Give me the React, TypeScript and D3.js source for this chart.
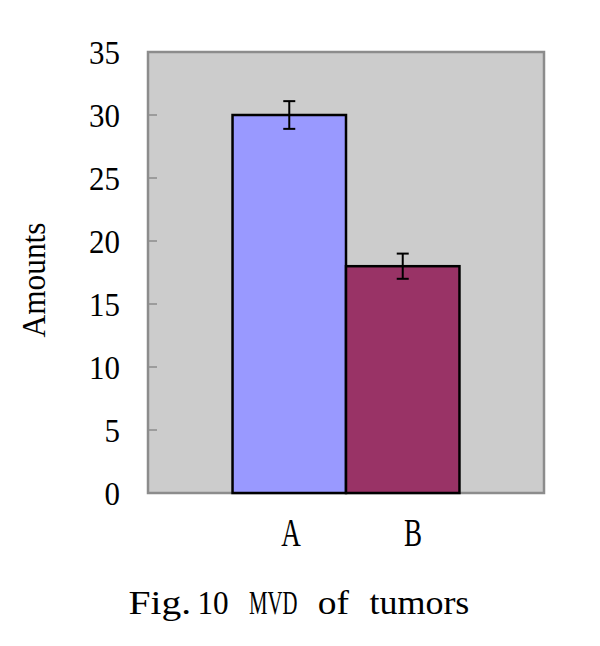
import React from "react";
import * as d3 from "d3";

const categories = ["A", "B"];
const values = [30, 18];
const errors = [1.1, 1.0];
const colors = ["#9999FF", "#993366"];
const yTicks = [0, 5, 10, 15, 20, 25, 30, 35];
const yLabel = "Amounts";
const caption = "Fig.10 MVD of tumors";

const W = 600;
const H = 646;
const plot = { left: 148, right: 544, top: 52, bottom: 493 };
const FONT = "'Liberation Serif', 'Times New Roman', serif";

export default function App() {
  const y = d3.scaleLinear().domain([0, 35]).range([plot.bottom, plot.top]);
  const x = d3
    .scaleBand<string>()
    .domain(categories)
    .range([plot.left, plot.right])
    .paddingInner(0)
    .paddingOuter(0.745);
  const labelX = d3.scalePoint<string>().domain(categories).range([291, 413]);
  const bw = x.bandwidth();
  const textStyle = { fontFamily: FONT, fill: "#000" } as const;

  // caption laid out on a fixed character pitch (monospace-like, as in the original)
  const pitch = 17.2;
  const capLeft = 127;
  const bearing = 1.6;
  const sx = 0.7;
  const chunks = caption.match(/[A-Za-z]+\.?|\d+|\s/g) || [];
  let idx = 0;
  const spans = chunks.map((c) => {
    const left = capLeft + idx * pitch;
    idx += c.length;
    if (c === " ") return { text: c, left: left / sx, width: 0 };
    const extra = c.endsWith(".") ? 3 : 0;
    return {
      text: c,
      left: (left + bearing) / sx,
      width: (c.length * pitch - 2 * bearing - extra) / sx,
    };
  });

  return (
    <svg
      width={W}
      height={H}
      style={{ position: "absolute", left: 0, top: 0, background: "#fff" }}
    >
      <rect
        x={plot.left}
        y={plot.top}
        width={plot.right - plot.left}
        height={plot.bottom - plot.top}
        fill="#CCCCCC"
        stroke="#8c8c8c"
        strokeWidth={2.5}
      />
      {yTicks.map((t) => (
        <g key={t}>
          <line
            x1={plot.left}
            x2={plot.left + 9}
            y1={y(t)}
            y2={y(t)}
            stroke="#8c8c8c"
            strokeWidth={1.5}
          />
          <text
            transform={`translate(120, ${y(t) + 11.5}) scale(0.91, 1)`}
            textAnchor="end"
            fontSize={34}
            style={textStyle}
          >
            {t}
          </text>
        </g>
      ))}
      {categories.map((c, i) => {
        const bx = x(c)!;
        const cx = bx + bw / 2;
        const top = y(values[i] + errors[i]);
        const bot = y(values[i] - errors[i]);
        return (
          <g key={c}>
            <rect
              x={bx}
              y={y(values[i])}
              width={bw}
              height={y(0) - y(values[i])}
              fill={colors[i]}
              stroke="#000"
              strokeWidth={2.5}
            />
            <line x1={cx} x2={cx} y1={top} y2={bot} stroke="#000" strokeWidth={2} />
            <line x1={cx - 6} x2={cx + 6} y1={top} y2={top} stroke="#000" strokeWidth={2} />
            <line x1={cx - 6} x2={cx + 6} y1={bot} y2={bot} stroke="#000" strokeWidth={2} />
            <text
              transform={`translate(${labelX(c)}, 546) scale(0.66, 1)`}
              textAnchor="middle"
              fontSize={41}
              style={textStyle}
            >
              {c}
            </text>
          </g>
        );
      })}
      <text
        transform={`translate(45, 280) rotate(-90) scale(0.95, 1)`}
        textAnchor="middle"
        fontSize={33}
        style={textStyle}
      >
        {yLabel}
      </text>
      <text transform={`translate(0, 614) scale(${sx}, 1)`} y={0} fontSize={33} style={textStyle}>
        {spans.map((s, i) =>
          s.width > 0 ? (
            <tspan key={i} x={s.left} textLength={s.width} lengthAdjust="spacingAndGlyphs">
              {s.text}
            </tspan>
          ) : (
            <tspan key={i} x={s.left}>
              {s.text}
            </tspan>
          )
        )}
      </text>
    </svg>
  );
}
